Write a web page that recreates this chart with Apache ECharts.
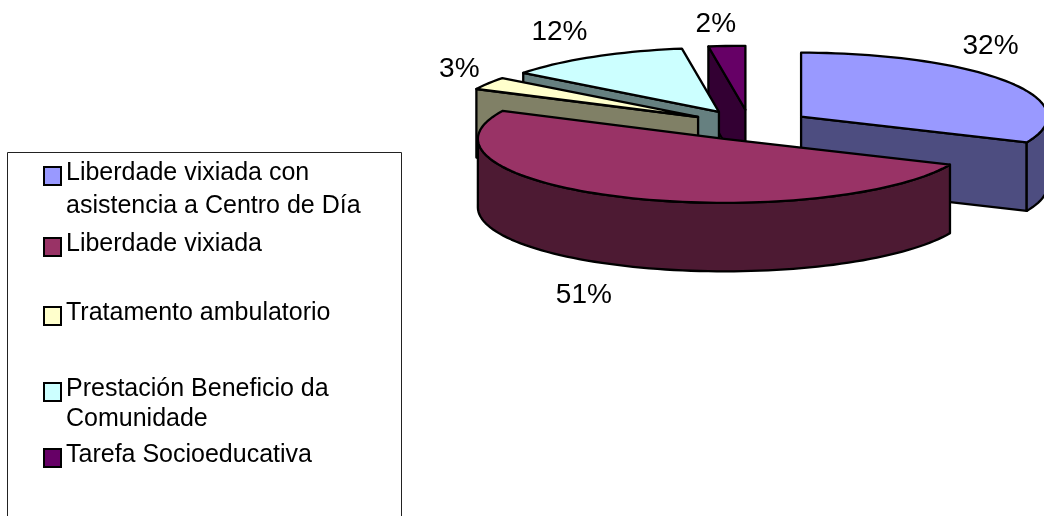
<!DOCTYPE html>
<html><head><meta charset="utf-8">
<style>html,body{margin:0;padding:0;background:#fff}#c{width:1044px;height:516px}</style>
<script src="https://cdn.jsdelivr.net/npm/echarts@6/dist/echarts.min.js"></script>
</head><body><div id="c"></div>
<script>
const categories = ['Liberdade vixiada con\nasistencia a Centro de Día','Liberdade vixiada','Tratamento ambulatorio','Prestación Beneficio da\nComunidade','Tarefa Socioeducativa'];
const values = [31.6, 50.6, 3.2, 12.2, 2.4];
const topColors = ['#9999FF','#993366','#FFFFCC','#CCFFFF','#660066'];
const sideColors = ['#4D4D80','#4D1A33','#808066','#668080','#330033'];
const paintOrder = [4,3,2,0,1];
const legendTops = [139,232,301,358,443];
const legendLineHeights = [33,32,32,30,32];
const labelNudges = [[-17,-35],[-37,98],[-29,-14],[-34,-25],[-11,-22]];

const G = {cx:750, cy:125, a:246.5, b:64, depth:68.5, explode:61, explodeYK:0.25};
const FONT = 'Liberation Sans, Arial, sans-serif';
const SYMBOL_SHIFT = 5;
const total = values.reduce((s,v)=>s+v,0);
const rad = d=>d*Math.PI/180;
function angles(i){
  let s=0; for(let j=0;j<i;j++) s+=values[j];
  return [s/total*360,(s+values[i])/total*360];
}
function renderSlice(i){
  const [t1,t2]=angles(i), m=(t1+t2)/2;
  const ox=G.cx+G.explode*Math.sin(rad(m)), oy=G.cy-G.explode*G.explodeYK*Math.cos(rad(m));
  const pt=(t,d=0)=>[ox+G.a*Math.sin(rad(t)), oy-G.b*Math.cos(rad(t))+d];
  const line={stroke:'#000',lineWidth:2.3,lineJoin:'round'};
  const children=[];
  const wall=(t)=>{
    const p=pt(t);
    children.push({type:'polygon',shape:{points:[[ox,oy],p,[p[0],p[1]+G.depth],[ox,oy+G.depth]]},style:{fill:sideColors[i],...line}});
  };
  if(Math.cos(rad(t1-90))<-1e-6) wall(t1);
  if(Math.cos(rad(t2+90))<-1e-6) wall(t2);
  const r1=Math.max(t1,90), r2=Math.min(t2,270);
  if(r2>r1){
    const up=[],down=[];
    for(let t=r1;;t+=2){const c=Math.min(t,r2);up.push(pt(c));down.unshift(pt(c,G.depth));if(c>=r2)break;}
    children.push({type:'polygon',shape:{points:up.concat(down)},style:{fill:sideColors[i],...line}});
  }
  const top=[[ox,oy]];
  for(let t=t1;;t+=2){const c=Math.min(t,t2);top.push(pt(c));if(c>=t2)break;}
  children.push({type:'polygon',shape:{points:top},style:{fill:topColors[i],...line}});
  const lp=pt(m), n=labelNudges[i];
  children.push({type:'text',style:{x:lp[0]+n[0],y:lp[1]+n[1],text:Math.round(values[i])+'%',fill:'#000',font:'28px '+FONT,textAlign:'center',textVerticalAlign:'middle'}});
  return {type:'group',children};
}
function legendOf(c,i){
  const L=legendLineHeights[i], two=c.includes('\n');
  const fmt = two
    ? n=>{const p=n.split('\n');return '{b| }\n{a|'+p[0]+'}\n{a|'+p[1]+'}';}
    : n=>'{a|'+n+'}\n{c| }';
  return {
    data:[c], left:43, top:legendTops[i], orient:'vertical', padding:0, z:5,
    selectedMode:false, icon:'rect', itemWidth:17, itemHeight:18,
    itemStyle:{borderColor:'#000',borderWidth:2},
    formatter:fmt,
    textStyle:{color:'#000',fontFamily:FONT,fontSize:25,
      rich:{
        a:{color:'#000',fontFamily:FONT,fontSize:25,lineHeight:L},
        b:{fontSize:8,lineHeight:L-SYMBOL_SHIFT},
        c:{fontSize:5,lineHeight:SYMBOL_SHIFT}
      }}
  };
}
const chart=echarts.init(document.getElementById('c'),null,{renderer:'canvas'});
chart.setOption({
  animation:false,
  backgroundColor:'#fff',
  graphic:[{type:'rect',z:0,shape:{x:7.5,y:152.5,width:394,height:400},style:{fill:'#fff',stroke:'#222',lineWidth:1}}],
  legend:categories.map(legendOf),
  series:paintOrder.map((i,o)=>({
    type:'custom',name:categories[i],coordinateSystem:'none',z:2+o,silent:true,
    itemStyle:{color:topColors[i]},
    data:[[values[i]]],
    renderItem:()=>renderSlice(i)
  }))
});
</script></body></html>
